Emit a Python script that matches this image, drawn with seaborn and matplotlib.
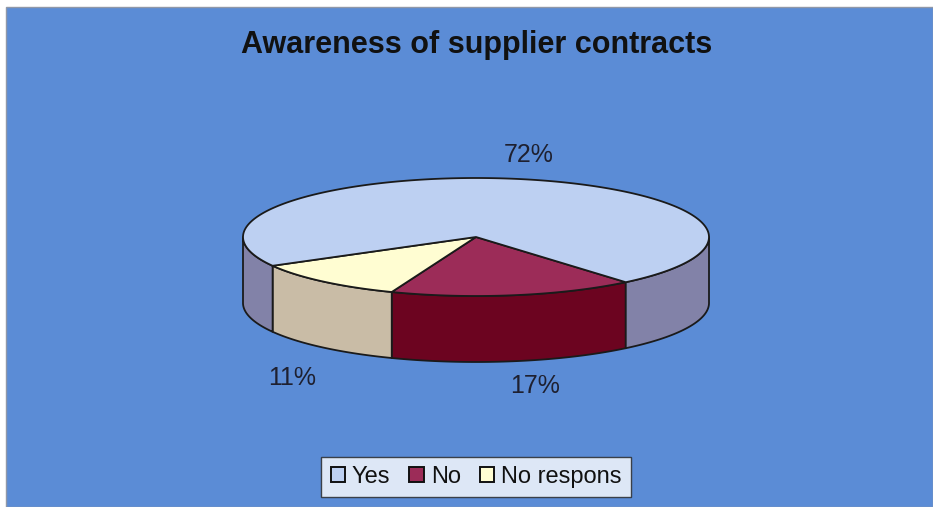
import numpy as np
import matplotlib
matplotlib.use("Agg")
import matplotlib.pyplot as plt
from matplotlib.patches import Polygon, Rectangle, Patch
import seaborn as sns

# Survey answers
categories = ["Yes", "No", "No respons"]
shares = [72, 17, 11]
label_texts = ["72%", "17%", "11%"]

sns.set_theme(style="white")
plt.rcParams["font.family"] = ["Liberation Sans", "DejaVu Sans"]

top_colors = sns.color_palette(["#BDD0F2", "#9C2C58", "#FFFDD2"])
side_colors = sns.color_palette(["#8282A8", "#6C0420", "#C9BCA6"])
bg_blue = "#5B8CD6"

W, H = 933, 507
fig = plt.figure(figsize=(W / 100, H / 100), dpi=100)
ax = fig.add_axes([0, 0, 1, 1])
ax.set_xlim(0, W)
ax.set_ylim(H, 0)
ax.axis("off")

# chart panel
ax.add_patch(Rectangle((6, 7), W - 6, H - 7, facecolor=bg_blue, edgecolor="#9098A8", lw=1.0, zorder=0))

# pie geometry (pixel space, y downward)
cx, cy = 476, 237
a, b = 233, 59
depth = 66
start = -50.0  # angle (deg) where the "No" slice begins, going clockwise


def ell(t_deg, dy=0.0):
    t = np.radians(t_deg)
    return cx + a * np.cos(t), cy - b * np.sin(t) + dy


# angular spans from the data (clockwise from the start angle)
fr = np.array(shares, dtype=float) / sum(shares)
spans = fr * 360.0
order = [1, 2, 0]  # No, No respons, Yes going clockwise
bounds = {}
ang = start
for i in order:
    bounds[i] = (ang - spans[i], ang)
    ang -= spans[i]

# side walls: only the front half (angles in [180, 360]) is visible
for i in order:
    lo, hi = bounds[i]
    for k in range(-2, 3):
        s0, s1 = lo + 360 * k, hi + 360 * k
        v0, v1 = max(s0, 180), min(s1, 360)
        if v1 <= v0:
            continue
        ts = np.linspace(v0, v1, 80)
        upper = [ell(t) for t in ts]
        lower = [ell(t, depth) for t in ts[::-1]]
        ax.add_patch(Polygon(upper + lower, closed=True, facecolor=side_colors[i],
                             edgecolor="#1A1A1A", lw=1.3, zorder=2, joinstyle="round"))

# top faces
for i in order:
    lo, hi = bounds[i]
    ts = np.linspace(lo, hi, 200)
    pts = [(cx, cy)] + [ell(t) for t in ts]
    ax.add_patch(Polygon(pts, closed=True, facecolor=top_colors[i],
                         edgecolor="#1A1A1A", lw=1.3, zorder=3, joinstyle="round"))

# percentage labels
label_pos = {0: (529, 155), 1: (535, 386), 2: (292, 378)}
for i in range(len(categories)):
    x, y = label_pos[i]
    ax.text(x, y, label_texts[i], ha="center", va="center", fontsize=18,
            color="#1E2030", zorder=5)

# title
ax.text(477, 45, "Awareness of supplier contracts", ha="center", va="center",
        fontsize=22, fontweight="bold", color="#111111", zorder=5)

# legend
handles = [Patch(facecolor=top_colors[i], edgecolor="#111111", lw=1.4) for i in range(len(categories))]
leg = ax.legend(handles, categories, loc="center", bbox_to_anchor=(476 / W, 1 - 477 / H),
                bbox_transform=fig.transFigure, ncol=3, frameon=True, fontsize=17,
                handlelength=0.6, handleheight=0.6, handletextpad=0.3, columnspacing=0.8,
                borderpad=0.4, fancybox=False)
leg.get_frame().set_edgecolor("#222222")
leg.get_frame().set_linewidth(1.0)
leg.get_frame().set_facecolor("white")
for t in leg.get_texts():
    t.set_color("#111111")

fig.savefig("out.png", dpi=100, facecolor="white")
